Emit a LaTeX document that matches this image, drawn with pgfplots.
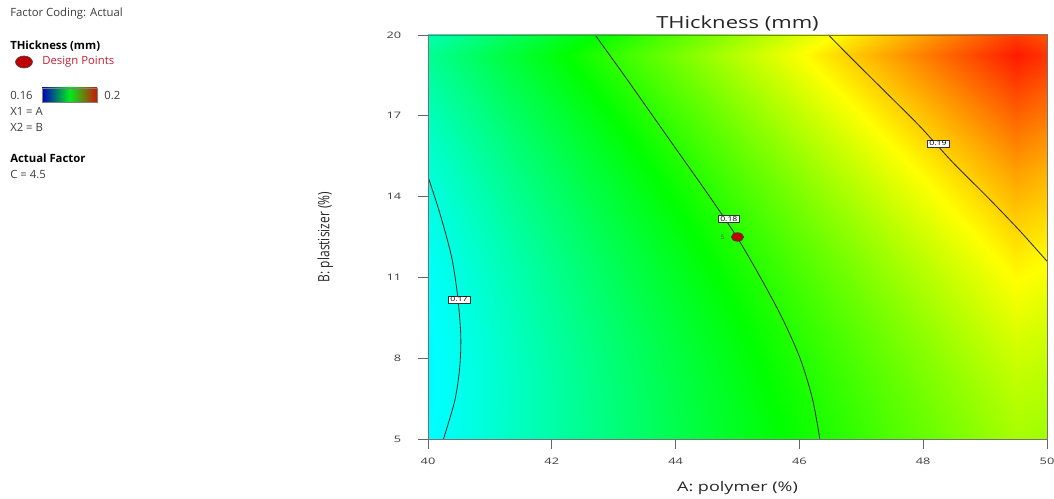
\documentclass[border=0pt]{standalone}
\usepackage{pgfplots}
\usepackage{pgfplotstable}
\pgfplotsset{compat=1.18}
\usepackage{fontspec}
\setmainfont{Open Sans}
\definecolor{txt}{RGB}{60,60,60}
\definecolor{dpred}{RGB}{200,30,50}
\definecolor{ptred}{RGB}{190,0,0}
\definecolor{cbL}{RGB}{0,0,190}
\definecolor{cbM}{RGB}{0,235,30}
\definecolor{cbR}{RGB}{210,20,0}
\pgfplotstableread{
x y z
40 5 0.16924
41 5 0.17094
42 5 0.17264
43 5 0.17434
44 5 0.17604
45 5 0.17774
46 5 0.17944
47 5 0.18114
48 5 0.18284
49 5 0.18454
50 5 0.18624
40 6.5 0.16895
41 6.5 0.17074
42 6.5 0.17253
43 6.5 0.17432
44 6.5 0.17611
45 6.5 0.17790
46 6.5 0.17969
47 6.5 0.18148
48 6.5 0.18327
49 6.5 0.18506
50 6.5 0.18685
40 8 0.16880
41 8 0.17068
42 8 0.17256
43 8 0.17444
44 8 0.17632
45 8 0.17820
46 8 0.18008
47 8 0.18196
48 8 0.18384
49 8 0.18572
50 8 0.18760
40 9.5 0.16880
41 9.5 0.17077
42 9.5 0.17274
43 9.5 0.17471
44 9.5 0.17668
45 9.5 0.17865
46 9.5 0.18062
47 9.5 0.18259
48 9.5 0.18456
49 9.5 0.18653
50 9.5 0.18850
40 11 0.16895
41 11 0.17101
42 11 0.17307
43 11 0.17513
44 11 0.17719
45 11 0.17925
46 11 0.18131
47 11 0.18337
48 11 0.18543
49 11 0.18749
50 11 0.18955
40 12.5 0.16924
41 12.5 0.17139
42 12.5 0.17354
43 12.5 0.17569
44 12.5 0.17784
45 12.5 0.17999
46 12.5 0.18214
47 12.5 0.18429
48 12.5 0.18644
49 12.5 0.18859
50 12.5 0.19074
40 14 0.16969
41 14 0.17193
42 14 0.17417
43 14 0.17641
44 14 0.17865
45 14 0.18089
46 14 0.18313
47 14 0.18537
48 14 0.18761
49 14 0.18985
50 14 0.19209
40 15.5 0.17028
41 15.5 0.17261
42 15.5 0.17494
43 15.5 0.17727
44 15.5 0.17960
45 15.5 0.18193
46 15.5 0.18426
47 15.5 0.18659
48 15.5 0.18892
49 15.5 0.19125
50 15.5 0.19358
40 17 0.17102
41 17 0.17344
42 17 0.17586
43 17 0.17828
44 17 0.18070
45 17 0.18312
46 17 0.18554
47 17 0.18796
48 17 0.19038
49 17 0.19280
50 17 0.19522
40 18.5 0.17191
41 18.5 0.17442
42 18.5 0.17693
43 18.5 0.17944
44 18.5 0.18195
45 18.5 0.18446
46 18.5 0.18697
47 18.5 0.18948
48 18.5 0.19199
49 18.5 0.19450
50 18.5 0.19701
40 20 0.17294
41 20 0.17554
42 20 0.17814
43 20 0.18074
44 20 0.18334
45 20 0.18594
46 20 0.18854
47 20 0.19114
48 20 0.19374
49 20 0.19634
50 20 0.19894
}\thicktab
\begin{document}
\begin{tikzpicture}[x=0.75pt,y=0.75pt]
\path[use as bounding box] (0,0) rectangle (1054,499);
% side legend
\begin{scope}[every node/.style={anchor=west, inner sep=0pt, text=txt, font=\fontsize{8.5}{10}\selectfont}]
\node at (10,485) {Factor Coding: Actual};
\node[text=black, font=\fontsize{8.5}{10}\selectfont\bfseries] at (10,453) {THickness (mm)};
\filldraw[fill=ptred, draw=black!70, line width=0.5pt] (24,437) ellipse [x radius=8.5, y radius=6];
\node[text=dpred] at (42,437) {Design Points};
\node at (10,404) {0.16};
\shadedraw[draw=black!50, line width=0.4pt, left color=cbL, right color=cbR, middle color=cbM] (42,397) rectangle (97,411);
\node at (104,404) {0.2};
\node at (10,388) {X1 = A};
\node at (10,372) {X2 = B};
\node[text=black, font=\fontsize{8.5}{10}\selectfont\bfseries] at (10,341) {Actual Factor};
\node at (10,325) {C = 4.5};
\end{scope}
\begin{axis}[
  at={(321pt,45pt)}, anchor=south west,
  scale only axis, width=464.25pt, height=303pt,
  xmin=40, xmax=50, ymin=5, ymax=20,
  xtick={40,42,...,50}, ytick={5,8,11,14,17,20},
  tick align=outside, tick pos=left,
  major tick length=7.5pt,
  every tick/.style={black!60, line width=0.5pt},
  axis line style={black!55, line width=0.5pt},
  /pgf/number format/assume math mode=true,
  tick label style={text=txt, font=\fontsize{6.7}{8}\selectfont, xscale=1.43},
  xticklabel shift=3pt, yticklabel shift=7.5pt,
  title={THickness (mm)},
  every axis title/.style={at={(axis description cs:0.5,1.028)}, anchor=center, text=black!85, font=\fontsize{12.5}{14}\selectfont, xscale=1.32},
  xlabel={A: polymer (\%)},
  xlabel style={at={(axis description cs:0.5,-0.121)}, anchor=center, text=black!85, font=\fontsize{10}{12}\selectfont, xscale=1.35},
  ylabel={B: plastisizer (\%)},
  ylabel style={at={(axis description cs:-0.166,0.5)}, anchor=center, text=black!85, font=\fontsize{9}{11}\selectfont, yscale=1.3},
  colormap={dx}{rgb255(0cm)=(0,0,255); rgb255(1cm)=(0,255,255); rgb255(2cm)=(0,255,0); rgb255(3cm)=(255,255,0); rgb255(4cm)=(255,0,0)},
  point meta min=0.16, point meta max=0.2,
  clip=true, axis on top,
]
\addplot[matrix plot*, shader=interp, mesh/cols=11, point meta=\thisrow{z}] table[x=x, y=y] {\thicktab};
\addplot[black!85, line width=0.6pt, smooth] coordinates {(40,14.74) (40.19,13.39) (40.38,11.77) (40.48,10.28) (40.53,8.80) (40.51,7.6) (40.43,6.4) (40.25,5.0)};
\addplot[black!85, line width=0.6pt, smooth] coordinates {(42.70,20) (43.17,18.5) (43.63,17) (44.09,15.5) (44.55,14) (44.99,12.5) (45.37,11) (45.72,9.5) (46.01,8) (46.21,6.5) (46.33,5.0)};
\addplot[black!85, line width=0.6pt, smooth] coordinates {(46.47,20) (46.87,19.07) (47.41,17.84) (47.95,16.60) (48.49,15.24) (49.03,14.0) (49.54,12.78) (50,11.6)};
\addplot[only marks, mark=*, mark size=3.2pt, mark options={fill=ptred, draw=black!75, xscale=1.45, line width=0.5pt}] coordinates {(45,12.5)};
\begin{scope}[every node/.style={draw=black!80, fill=white, line width=0.4pt, inner xsep=1.3pt, inner ysep=0.7pt, font=\fontsize{5}{5.5}\selectfont, xscale=1.3}]
\node at (axis cs:40.50,10.18) {0.17};
\node at (axis cs:44.86,13.17) {0.18};
\node at (axis cs:48.24,15.97) {0.19};
\end{scope}
\node[font=\fontsize{4.5}{5}\selectfont, text=black!70] at (axis cs:44.76,12.5) {5};
\end{axis}
\end{tikzpicture}
\end{document}
